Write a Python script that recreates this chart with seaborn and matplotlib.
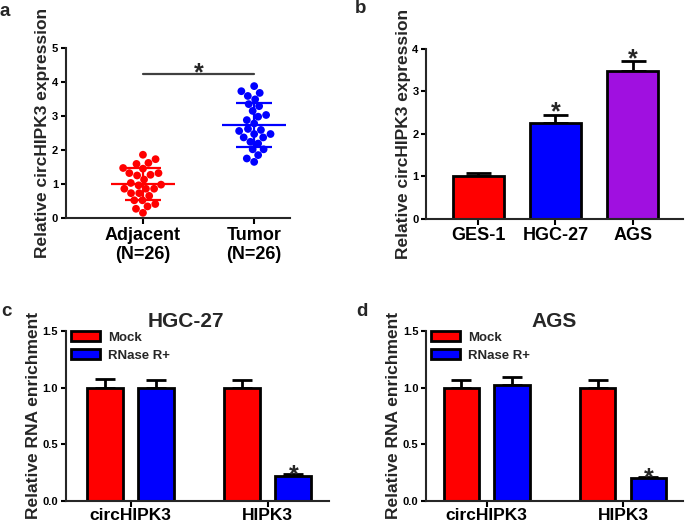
import numpy as np
import pandas as pd
import seaborn as sns
import matplotlib.pyplot as plt
from matplotlib.patches import Patch

# Panel a: single samples (relative circHIPK3 expression)
adjacent = [1.74, 1.87, 1.48, 1.60, 1.63, 1.46, 1.33, 1.28, 1.26, 1.33, 1.14, 0.99, 1.04,
            0.97, 0.87, 0.87, 0.87, 0.74, 0.74, 0.66, 0.53, 0.53, 0.35, 0.28, 0.16, 0.42]
tumor = [3.89, 3.74, 3.69, 3.60, 3.50, 3.36, 3.30, 3.16, 3.04, 2.99, 2.89, 2.79, 2.63,
         2.57, 2.60, 2.48, 2.48, 2.38, 2.38, 2.25, 2.20, 2.03, 2.03, 1.86, 1.76, 1.66]
tissue_labels = ['Adjacent\n(N=26)', 'Tumor\n(N=26)']

# Panel b: cell lines
cell_lines = ['GES-1', 'HGC-27', 'AGS']
cell_expr = [1.01, 2.26, 3.47]
cell_err = [0.07, 0.19, 0.24]

# Panels c, d: RNase R treatment
genes = ['circHIPK3', 'HIPK3']
treatments = ['Mock', 'RNase R+']
hgc_mock = [1.00, 1.00]
hgc_mock_err = [0.08, 0.07]
hgc_rnase = [1.00, 0.22]
hgc_rnase_err = [0.07, 0.02]
ags_mock = [1.00, 1.00]
ags_mock_err = [0.07, 0.07]
ags_rnase = [1.02, 0.20]
ags_rnase_err = [0.07, 0.01]

RED, BLUE, PURPLE = '#FF0000', '#0000FF', '#A010E0'

sns.set_style('ticks')
plt.rcParams['font.family'] = ['Liberation Sans', 'DejaVu Sans']
plt.rcParams['font.weight'] = 'bold'

fig = plt.figure(figsize=(6.85, 5.26), dpi=100)
ax_a = fig.add_axes([0.096, 0.585, 0.327, 0.323])
ax_b = fig.add_axes([0.622, 0.584, 0.375, 0.323])
ax_c = fig.add_axes([0.096, 0.048, 0.385, 0.3226])
ax_d = fig.add_axes([0.622, 0.048, 0.375, 0.3226])


def style_axis(ax, ylabel):
    sns.despine(ax=ax)
    for s in ['left', 'bottom']:
        ax.spines[s].set_linewidth(1.5)
    ax.tick_params(axis='both', width=1.5, length=3.5, colors='black')
    ax.tick_params(axis='y', labelsize=8, pad=2)
    ax.tick_params(axis='x', labelsize=13, length=4.5, pad=1.5)
    ax.set_ylabel(ylabel, fontsize=12.5, fontweight='bold', labelpad=1)
    ax.set_xlabel('')


# ---- a: scatter with mean +/- SD
df_a = pd.DataFrame({'group': [tissue_labels[0]] * len(adjacent) + [tissue_labels[1]] * len(tumor),
                     'value': adjacent + tumor})
sns.swarmplot(data=df_a, x='group', y='value', hue='group', palette=[RED, BLUE],
              size=5.6, ax=ax_a, legend=False, zorder=2)
for i, vals in enumerate([adjacent, tumor]):
    m, s = np.mean(vals), np.std(vals, ddof=1)
    c = [RED, BLUE][i]
    ax_a.hlines(m, i - 0.29, i + 0.29, color=c, lw=1.6, zorder=10)
    ax_a.hlines([m - s, m + s], i - 0.16, i + 0.16, color=c, lw=1.6, zorder=10)
    ax_a.vlines(i, m - s, m + s, color=c, lw=1.6, zorder=10)
ax_a.plot([0, 1], [4.26, 4.26], color='#404040', lw=1.6)
ax_a.text(0.5, 4.07, '*', ha='center', va='baseline', fontsize=18, fontweight='bold')
ax_a.set_ylim(0, 5)
ax_a.set_yticks(range(6))
ax_a.set_xlim(-0.694, 1.32)
style_axis(ax_a, 'Relative circHIPK3 expression')

# ---- b: bars per cell line
sns.barplot(x=cell_lines, y=cell_expr, hue=cell_lines, palette=[RED, BLUE, PURPLE],
            saturation=1, width=0.66, edgecolor='black', linewidth=2, errorbar=None,
            legend=False, ax=ax_b)
xb = np.arange(len(cell_lines))
ax_b.errorbar(xb, cell_expr, yerr=[np.zeros(len(cell_err)), cell_err], fmt='none',
              ecolor='black', elinewidth=2, capsize=9, capthick=2, zorder=0.9)
for x, y, e in zip(xb[1:], cell_expr[1:], cell_err[1:]):
    ax_b.annotate('*', (x, y + e), xytext=(0, -3.5), textcoords='offset points',
                  ha='center', va='baseline', fontsize=18, fontweight='bold')
ax_b.set_ylim(0, 4)
ax_b.set_yticks(range(5))
ax_b.set_xlim(-0.675, 2.65)
style_axis(ax_b, 'Relative circHIPK3 expression')


# ---- c, d: grouped bars
def rnase_panel(ax, mock, mock_err, rnase, rnase_err, title, xlim, title_x):
    df = pd.DataFrame({'gene': genes * 2,
                       'treatment': [treatments[0]] * 2 + [treatments[1]] * 2,
                       'value': mock + rnase,
                       'err': mock_err + rnase_err})
    sns.barplot(data=df, x='gene', y='value', hue='treatment', palette=[RED, BLUE],
                saturation=1, width=0.745, gap=0.3, edgecolor='black', linewidth=2,
                errorbar=None, legend=False, ax=ax)
    for cont, t in zip(ax.containers, treatments):
        sub = df[df.treatment == t]
        xs = [p.get_x() + p.get_width() / 2 for p in cont]
        ax.errorbar(xs, sub.value, yerr=[np.zeros(len(sub)), sub.err], fmt='none',
                    ecolor='black', elinewidth=2, capsize=7, capthick=2, zorder=0.9)
        if t == treatments[1]:
            ax.annotate('*', (xs[1], sub.value.iloc[1] + sub.err.iloc[1]), xytext=(0, -6),
                        textcoords='offset points', ha='center', va='baseline',
                        fontsize=18, fontweight='bold')
    handles = [Patch(facecolor=c, edgecolor='black', linewidth=2, label=t)
               for c, t in zip([RED, BLUE], treatments)]
    ax.legend(handles=handles, loc='upper left', bbox_to_anchor=(0.02, 1.0), frameon=False,
              handlelength=2.2, handleheight=0.8, borderaxespad=0,
              borderpad=0, labelspacing=0.4, handletextpad=0.6,
              prop={'weight': 'bold', 'size': 9.5})
    ax.set_ylim(0, 1.5)
    ax.set_yticks([0, 0.5, 1.0, 1.5])
    ax.set_yticklabels(['0.0', '0.5', '1.0', '1.5'])
    ax.set_xlim(*xlim)
    ax.set_title(title, fontsize=15, fontweight='bold', pad=3, x=title_x)
    style_axis(ax, 'Relative RNA enrichment')
    ax.tick_params(axis='x', labelsize=12.5, pad=1)


rnase_panel(ax_c, hgc_mock, hgc_mock_err, hgc_rnase, hgc_rnase_err, 'HGC-27', (-0.473, 1.45), 0.455)
rnase_panel(ax_d, ags_mock, ags_mock_err, ags_rnase, ags_rnase_err, 'AGS', (-0.445, 1.44), 0.5)

for label, x, y in [('a', 0.007, 0.979), ('b', 0.527, 0.983), ('c', 0.009, 0.407), ('d', 0.528, 0.407)]:
    fig.text(x, y, label, fontsize=13.5, fontweight='bold', ha='center', va='center')

fig.savefig('out.png', dpi=100)
